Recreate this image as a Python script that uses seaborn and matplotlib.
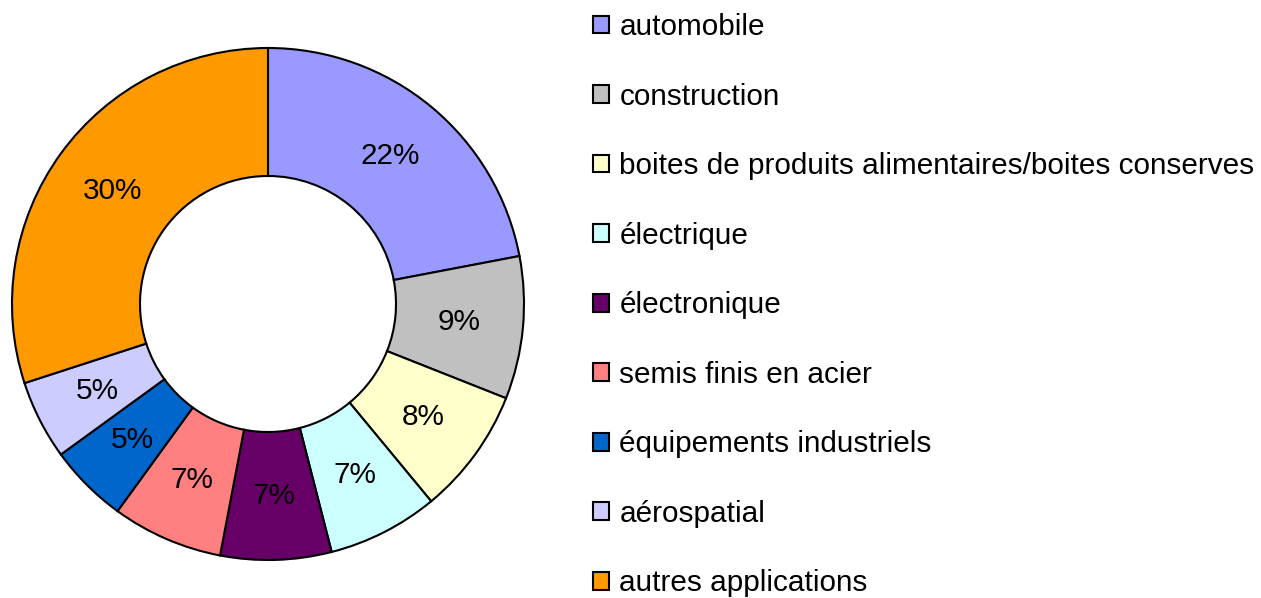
import matplotlib
matplotlib.use("Agg")
import matplotlib.pyplot as plt
import matplotlib.patches as mpatches
import seaborn as sns

sns.set_theme(style="white")
plt.rcParams['font.family'] = ['Liberation Sans', 'DejaVu Sans']
plt.rcParams['text.color'] = 'black'

categories = ['automobile', 'construction',
              'boites de produits alimentaires/boites conserves',
              'électrique', 'électronique', 'semis finis en acier',
              'équipements industriels', 'aérospatial', 'autres applications']
shares = [22, 9, 8, 7, 7, 7, 5, 5, 30]
colors = ['#9999FF', '#C0C0C0', '#FFFFCC', '#CCFFFF', '#660066',
          '#FF8080', '#0066CC', '#CCCCFF', '#FF9900']

W, H = 1261, 598
fig = plt.figure(figsize=(W / 100, H / 100), dpi=100)
fig.patch.set_facecolor('white')

# donut geometry in pixels
cx, cy, r = 268, 304, 256
half = 262
ax = fig.add_axes([(cx - half) / W, (H - cy - half) / H, 2 * half / W, 2 * half / H])
wedges, texts, autotexts = ax.pie(
    shares, colors=colors, startangle=90, counterclock=False, radius=1,
    autopct='%1.0f%%', pctdistance=0.75,
    wedgeprops=dict(width=0.5, edgecolor='black', linewidth=1.5),
    textprops=dict(fontsize=21.4, color='black'))
lim = half / r
ax.set_xlim(-lim, lim)
ax.set_ylim(-lim, lim)
ax.set_aspect('equal')
ax.axis('off')

handles = [mpatches.Patch(facecolor=c, edgecolor='black', linewidth=1.5) for c in colors]
leg = fig.legend(handles, categories, loc='upper left', bbox_to_anchor=(593 / W, 1 - 13 / H),
                 frameon=False, fontsize=21.4, handlelength=0.55, handleheight=0.55,
                 handletextpad=0.34, labelspacing=1.397, borderpad=0, borderaxespad=0)
for t in leg.get_texts():
    t.set_color('black')

fig.savefig('out.png', dpi=100, facecolor='white')
